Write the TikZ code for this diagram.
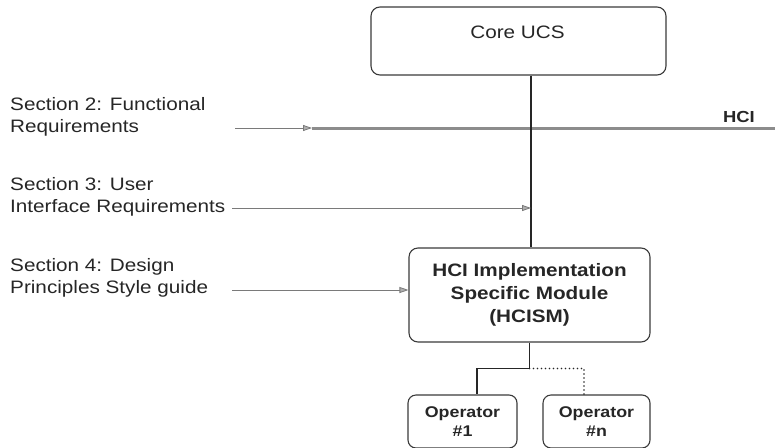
\documentclass[tikz,border=0pt]{standalone}
\usepackage{fontspec}
\setmainfont{Liberation Sans}[FakeStretch=1.15]
\usetikzlibrary{arrows.meta,calc}
\definecolor{ink}{HTML}{262626}
\definecolor{frame}{HTML}{3A3A3A}
\definecolor{feed}{HTML}{7A7A7A}
\definecolor{bus}{HTML}{8C8C8C}
\begin{document}
\begin{tikzpicture}[x=1pt,y=-1pt,
  every node/.style={text=ink,inner sep=0pt},
  box/.style={draw=frame,line width=1.1pt,rounded corners=9pt},
  section/.style={anchor=base west,align=left,font=\fontsize{18}{21.5}\selectfont},
  feedarrow/.style={draw=feed,line width=0.8pt,
    -{Triangle[length=9pt,width=6pt,fill=bus!70,color=feed]}},
  link/.style={draw=ink,line width=1.2pt},
  optlink/.style={draw=ink,line width=1.8pt,line cap=round,dash pattern=on 0pt off 4pt},
  opbox/.style={box,rounded corners=8pt,minimum height=53pt,align=center,
    font=\bfseries\fontsize{15.5}{19}\selectfont},
]
\useasboundingbox (0,0) rectangle (775,447);
\clip (0,0) rectangle (775,447);

% boxes
\node[box,minimum width=295pt,minimum height=68pt] (core) at (518.5,41) {};
\node[font=\fontsize{18}{21}\selectfont,anchor=base] (coretext) at (517.5,38) {Core UCS};
\node[box,minimum width=241pt,minimum height=94pt,align=center,
  font=\bfseries\fontsize{18}{23}\selectfont] (hcism) at (529.5,295)
  {HCI Implementation\\Specific Module\\(HCISM)};
\node[opbox,minimum width=109pt] (op1) at (462.5,421.5) {Operator\\\#1};
\node[opbox,minimum width=107pt] (opn) at (596.5,421.5) {Operator\\\#n};

% HCI bus
\coordinate (spine) at (531,128);
\coordinate (busL) at (312,128);
\coordinate (busR) at (775,128);
\draw[bus,line width=3pt] (busL) -- (busR);
\node[font=\bfseries\fontsize{16}{18}\selectfont,anchor=base] (hcilabel) at (739,122) {HCI};

% spine from core to HCISM
\draw[link] (core.south -| spine) -- (hcism.north -| spine);

% section inputs
\node[section] (s2) at (10,132) {Section 2: Functional\\Requirements};
\node[section] (s3) at (10,212) {Section 3: User\\Interface Requirements};
\node[section] (s4) at (10,293) {Section 4: Design\\Principles Style guide};
\coordinate (s2out) at (235,128);
\coordinate (s3out) at (232,208);
\coordinate (s4out) at (232,290);
\draw[feedarrow] (s2out) -- (busL);
\draw[feedarrow] (s3out) -- (spine |- s3out);
\draw[feedarrow] (s4out) -- (hcism.west |- s4out);

% operators
\coordinate (split) at ($(hcism.south)+(0,26)$);
\draw[link,line width=1.1pt] (hcism.south) -- (split) -| ($(op1.north)+(14.5,0)$);
\draw[optlink] (split) -| ($(opn.north)+(-12.5,0)$);
\end{tikzpicture}
\end{document}
